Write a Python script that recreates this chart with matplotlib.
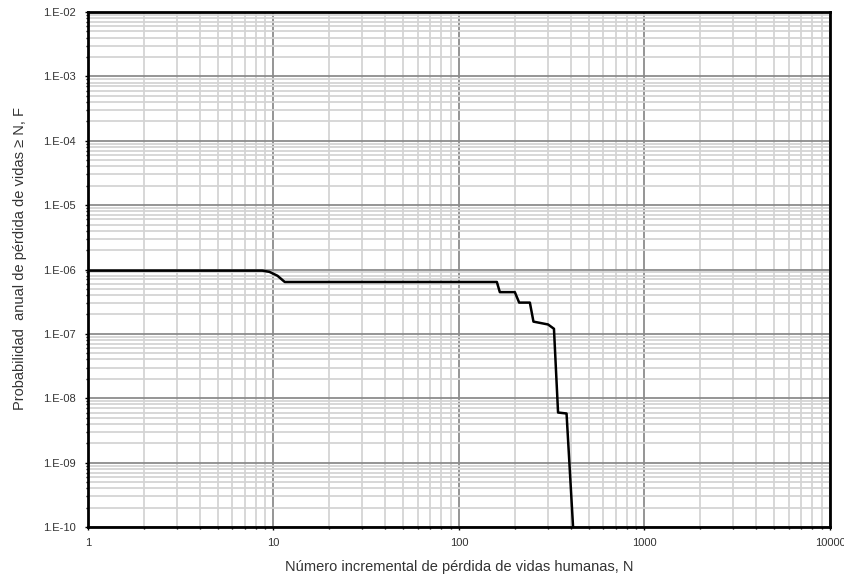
import math

import matplotlib
matplotlib.use("Agg")
import matplotlib.pyplot as plt
from matplotlib.ticker import FuncFormatter, LogLocator, NullFormatter

plt.rcParams["font.family"] = ["Liberation Sans", "DejaVu Sans"]

# F-N curve (N, annual probability)
n_vals = [1, 8.7, 9.5, 10.5, 11.5, 160, 166, 200, 211, 241, 252, 302, 325, 342, 380, 412, 420]
f_vals = [9.6e-7, 9.6e-7, 9.2e-7, 8.0e-7, 6.4e-7, 6.4e-7, 4.45e-7, 4.45e-7, 3.06e-7,
          3.06e-7, 1.55e-7, 1.40e-7, 1.2e-7, 6.0e-9, 5.8e-9, 1.0e-10, 5e-11]

x_label = "Número incremental de pérdida de vidas humanas, N"
y_label = "Probabilidad  anual de pérdida de vidas ≥ N, F"

fig = plt.figure(figsize=(8.45, 5.77), dpi=100)
ax = fig.add_axes([88 / 845, 1 - 527 / 577, 742 / 845, 515 / 577])

ax.set_xscale("log")
ax.set_yscale("log")
ax.set_xlim(1, 10000)
ax.set_ylim(1e-10, 1e-2)

ax.xaxis.set_major_locator(LogLocator(base=10, numticks=10))
ax.xaxis.set_minor_locator(LogLocator(base=10, subs=range(2, 10), numticks=50))
ax.yaxis.set_major_locator(LogLocator(base=10, numticks=20))
ax.yaxis.set_minor_locator(LogLocator(base=10, subs=range(2, 10), numticks=100))

ax.xaxis.set_major_formatter(FuncFormatter(lambda v, p: f"{v:g}"))
ax.yaxis.set_major_formatter(FuncFormatter(lambda v, p: f"1.E{int(round(math.log10(v))):+03d}"))
ax.xaxis.set_minor_formatter(NullFormatter())
ax.yaxis.set_minor_formatter(NullFormatter())

ax.grid(which="minor", color="#d4d4d4", linewidth=1.3)
ax.grid(which="major", color="#8c8c8c", linewidth=1.3)
ax.set_axisbelow(True)

ax.plot(n_vals, f_vals, color="black", linewidth=1.8)

for s in ax.spines.values():
    s.set_linewidth(2)
    s.set_color("black")

ax.tick_params(which="both", direction="out", length=2, width=1, labelsize=8,
               labelcolor="#333333")
ax.tick_params(which="minor", length=1.5)
ax.tick_params(axis="y", pad=7)
ax.tick_params(axis="x", pad=6)

ax.set_xlabel(x_label, fontsize=10.5, color="#333333")
ax.set_ylabel(y_label, fontsize=10.5, color="#333333")
ax.xaxis.set_label_coords(0.5, -0.064)
ax.yaxis.set_label_coords(-0.082, 0.522)

fig.savefig("out.png", dpi=100)
